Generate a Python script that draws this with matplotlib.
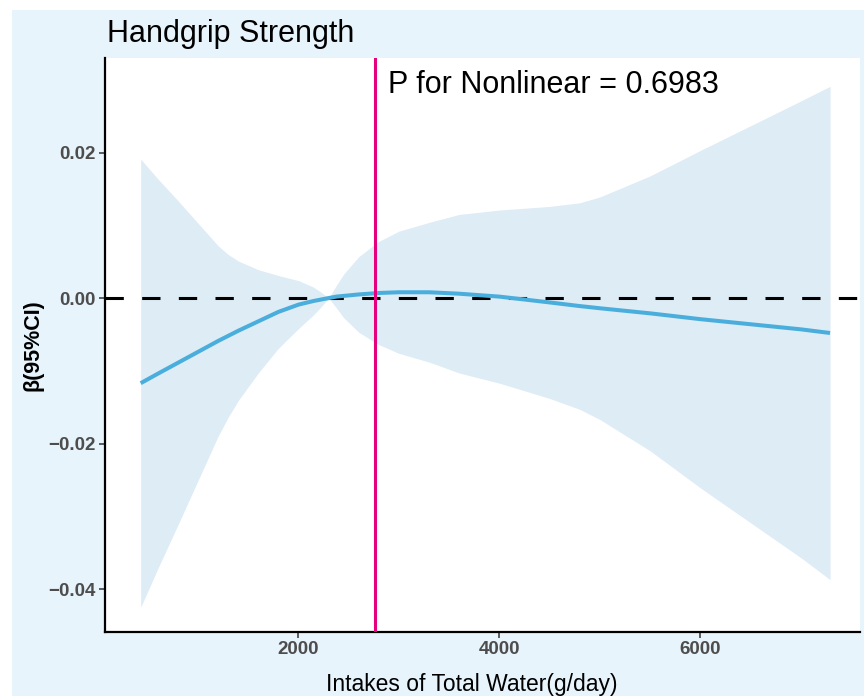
import numpy as np
import matplotlib
matplotlib.use("Agg")
import matplotlib.pyplot as plt
from matplotlib.patches import Rectangle

plt.rcParams['font.family'] = ['Liberation Sans', 'DejaVu Sans']

# Values
water = [430, 600, 800, 1000, 1200, 1300, 1400, 1600, 1800, 2000, 2150,
         2225, 2300, 2375, 2450, 2600, 2800, 3000, 3300, 3600, 4000, 4500,
         4800, 5000, 5500, 6000, 6500, 7000, 7289]
beta = [-0.0117, -0.0104, -0.0089, -0.0074, -0.0059, -0.0052, -0.0045,
        -0.0032, -0.0019, -0.0009, -0.0004, -0.0002, 0.0000, 0.0002, 0.0003,
        0.0005, 0.0007, 0.0008, 0.0008, 0.0006, 0.0002, -0.0006, -0.0011,
        -0.0014, -0.0021, -0.0029, -0.0036, -0.0043, -0.0048]
upper = [0.0191, 0.0164, 0.0134, 0.0103, 0.0072, 0.0060, 0.0051, 0.0039,
         0.0031, 0.0024, 0.0015, 0.0008, 0.0000, 0.0017, 0.0033, 0.0057,
         0.0078, 0.0092, 0.0104, 0.0115, 0.0121, 0.0126, 0.0131, 0.0139,
         0.0168, 0.0203, 0.0237, 0.0271, 0.0291]
lower = [-0.0425, -0.0372, -0.0312, -0.0251, -0.0190, -0.0164, -0.0141,
         -0.0103, -0.0069, -0.0042, -0.0023, -0.0012, 0.0000, -0.0013,
         -0.0027, -0.0047, -0.0064, -0.0076, -0.0088, -0.0103, -0.0117,
         -0.0138, -0.0153, -0.0167, -0.0210, -0.0261, -0.0309, -0.0357,
         -0.0387]
median_water = 2766
p_text = "P for Nonlinear = 0.6983"
x_ticks = [2000, 4000, 6000]
y_ticks = [-0.04, -0.02, 0.00, 0.02]

W, H = 864, 696
fig = plt.figure(figsize=(W / 100, H / 100), dpi=100, facecolor="white")
fig.patches.append(Rectangle((12 / W, 0), 1, 1 - 10 / H, transform=fig.transFigure,
                             facecolor="#e8f4fc", edgecolor="none", zorder=-10))

ax = fig.add_axes([105 / W, (H - 632) / H, 755 / W, 574 / H])
ax.set_facecolor("white")

ax.fill_between(water, lower, upper, color="#deecf6", linewidth=0, zorder=1)
ax.plot(water, beta, color="#4aaedd", lw=2.9, solid_capstyle="butt", zorder=3)
ax.axhline(0, color="black", lw=2.2, dashes=(6, 6), zorder=2)
ax.axvline(median_water, color="#e6007e", lw=2.2, zorder=4)
ax.text(2890, 0.0282, p_text, fontsize=22, color="black", ha="left", va="baseline")

ax.set_xlim(75, 7587)
ax.set_ylim(-0.0459, 0.0330)
ax.set_xticks(x_ticks)
ax.set_yticks(y_ticks)
ax.set_xticklabels([str(t) for t in x_ticks])
ax.set_yticklabels(["\u22120.04", "\u22120.02", "0.00", "0.02"])

for s in ["top", "right"]:
    ax.spines[s].set_visible(False)
for s in ["left", "bottom"]:
    ax.spines[s].set_linewidth(1.6)
    ax.spines[s].set_color("black")

ax.tick_params(axis="both", length=4, width=1.1, color="#333333",
               labelsize=13.5, labelcolor="#4d4d4d", pad=2.5)
for lab in ax.get_xticklabels() + ax.get_yticklabels():
    lab.set_fontweight("bold")

ax.set_ylabel("\u03b2(95%CI)", fontsize=15.5, fontweight="bold")
ax.yaxis.set_label_coords(-0.082, 0.5)
ax.set_xlabel("Intakes of Total Water(g/day)", fontsize=16.5)
ax.xaxis.set_label_coords(0.486, -0.072)

fig.text(107 / W, 1 - 41.7 / H, "Handgrip Strength", fontsize=22, ha="left", va="baseline")

fig.savefig("out.png", dpi=100, facecolor=fig.get_facecolor())
